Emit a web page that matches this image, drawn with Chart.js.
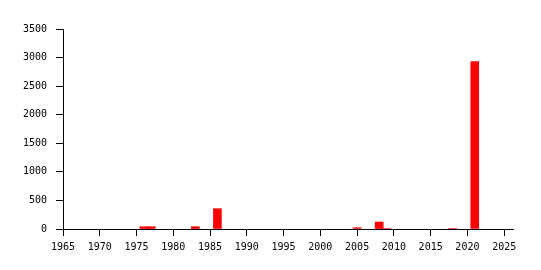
<!DOCTYPE html>
<html>
<head>
<meta charset="utf-8">
<script src="https://cdn.jsdelivr.net/npm/chart.js@4/dist/chart.umd.min.js"></script>
<style>
  html, body { margin: 0; padding: 0; background: #ffffff; }
  #box { width: 541px; height: 270px; }
</style>
</head>
<body>
<div id="box"><canvas id="myChart"></canvas></div>
<script>
'use strict';

// years that have a bar, and the value of each
let years = [1976, 1977, 1983, 1986, 2005, 2008, 2009, 2018, 2021];
let counts = [40, 40, 40, 355, 22, 122, 8, 8, 2930];

let xTicks = [1965, 1970, 1975, 1980, 1985, 1990, 1995, 2000, 2005, 2010, 2015, 2020, 2025];
let yTicks = [0, 500, 1000, 1500, 2000, 2500, 3000, 3500];

let points = [];
for (let i = 0; i < years.length; i++) {
  points.push({ x: years[i], y: counts[i] });
}

let tickFont = { family: 'DejaVu Sans Mono', size: 10 };

function fixTicks(list) {
  return function (scale) {
    scale.ticks = list.map(function (v) { return { value: v }; });
  };
}

let ctx = document.getElementById('myChart').getContext('2d');
let myChart = new Chart(ctx, {
  type: 'bar',
  data: {
    datasets: [{
      data: points,
      backgroundColor: '#ff0000',
      borderWidth: 0,
      barThickness: 8
    }]
  },
  options: {
    responsive: true,
    maintainAspectRatio: false,
    animation: false,
    layout: {
      padding: { left: 0, top: 29, right: 28, bottom: 0 }
    },
    plugins: {
      legend: { display: false },
      tooltip: { enabled: false }
    },
    scales: {
      x: {
        type: 'linear',
        min: 1965,
        max: 2026.2,
        offset: false,
        afterBuildTicks: fixTicks(xTicks),
        afterFit: function (scale) { scale.height = 41; },
        grid: {
          offset: false,
          drawOnChartArea: false,
          color: '#000000',
          tickLength: 7
        },
        border: { color: '#000000', width: 1 },
        ticks: {
          color: '#000000',
          font: tickFont,
          padding: 5,
          maxRotation: 0,
          autoSkip: false,
          callback: function (v) { return String(v); }
        }
      },
      y: {
        min: 0,
        max: 3500,
        afterBuildTicks: fixTicks(yTicks),
        afterFit: function (scale) { scale.width = 63; },
        grid: {
          drawOnChartArea: false,
          color: '#000000',
          tickLength: 7
        },
        border: { color: '#000000', width: 1 },
        ticks: {
          color: '#000000',
          font: tickFont,
          padding: 9,
          callback: function (v) { return String(v); }
        }
      }
    }
  }
});
</script>
</body>
</html>
